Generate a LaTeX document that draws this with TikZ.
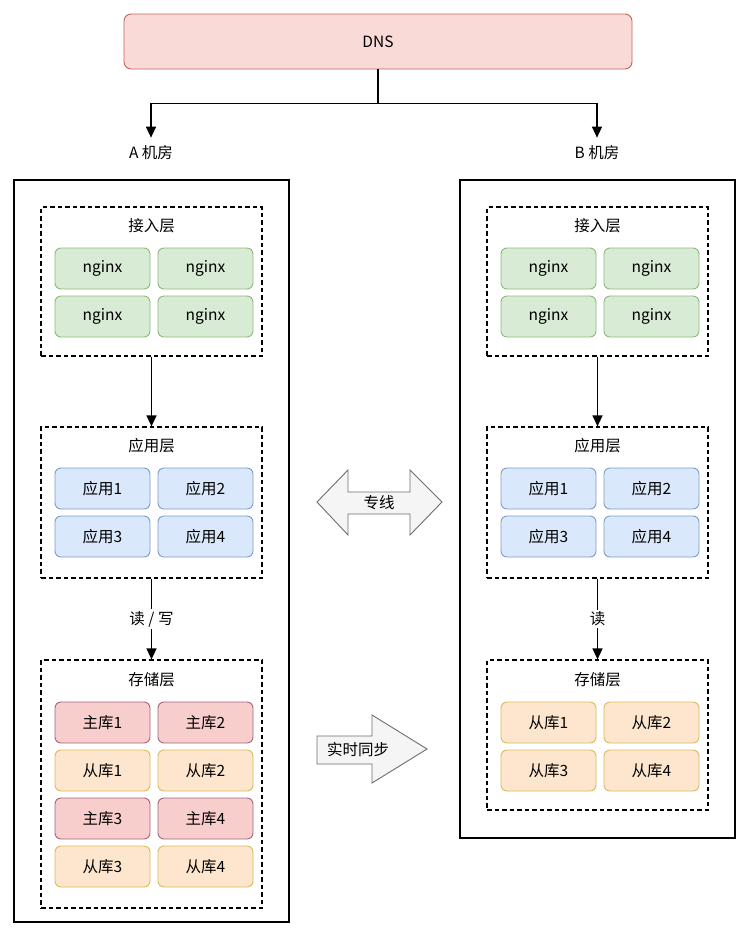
\documentclass[tikz,border=0pt]{standalone}
\usepackage{fontspec}
\setmainfont{Noto Sans CJK SC}
\usetikzlibrary{arrows.meta}
\definecolor{dnsfill}{HTML}{FADAD6}
\definecolor{dnsdraw}{HTML}{C0665F}
\definecolor{gfill}{HTML}{D8EBD5}
\definecolor{gdraw}{HTML}{8DBB78}
\definecolor{bfill}{HTML}{DAE8FC}
\definecolor{bdraw}{HTML}{7C9CCB}
\definecolor{rfill}{HTML}{F8CECC}
\definecolor{rdraw}{HTML}{A4647E}
\definecolor{yfill}{HTML}{FDE6CD}
\definecolor{ydraw}{HTML}{D9BC5A}
\definecolor{afill}{HTML}{F5F5F5}
\definecolor{adraw}{HTML}{6E6E6E}
\begin{document}
\begin{tikzpicture}[x=1pt,y=-1pt,
  font=\fontsize{15.5}{17}\selectfont,
  cell/.style={draw,rounded corners=6pt,minimum width=95pt,minimum height=41pt,line width=0.9pt,inner sep=0pt},
  gcell/.style={cell,fill=gfill,draw=gdraw},
  bcell/.style={cell,fill=bfill,draw=bdraw},
  rcell/.style={cell,fill=rfill,draw=rdraw},
  ycell/.style={cell,fill=yfill,draw=ydraw},
  layer/.style={draw,dash pattern=on 4.5pt off 3pt,line width=1.2pt,minimum width=221pt,inner sep=0pt},
  room/.style={draw,line width=1.5pt,minimum width=275pt,inner sep=0pt},
  arr/.style={-{Triangle[length=11pt,width=10pt]},line width=1.3pt},
  blockarrow/.style={fill=afill,draw=adraw,line width=0.9pt},
  lbl/.style={inner sep=1pt}
]
\useasboundingbox (0,0) rectangle (750,937);
\fill[white] (0,0) rectangle (750,937);

% DNS
\node[draw=dnsdraw,fill=dnsfill,rounded corners=7pt,minimum width=508pt,minimum height=55pt,line width=0.9pt] (dns) at (378,41.5) {DNS};
\node[lbl] (labA) at (151,153) {A 机房};
\node[lbl] (labB) at (597,153) {B 机房};
\draw[arr] (dns.south) -- ++(0,34) -| ([yshift=7pt]labA.north);
\draw[arr] (dns.south) -- ++(0,34) -| ([yshift=7pt]labB.north);

% Rooms
\node[room,minimum height=742pt] (roomA) at (151.5,551) {};
\node[room,minimum height=658pt] (roomB) at (597.5,509) {};

% Room A layers
\node[layer,minimum height=149pt] (accA) at (151.5,281.5) {};
\node[lbl] (accAt) at (151.5,226) {接入层};
\node[gcell] (ngA1) at (102.5,268.5) {nginx};
\node[gcell] (ngA2) at (205.5,268.5) {nginx};
\node[gcell] (ngA3) at (102.5,316.5) {nginx};
\node[gcell] (ngA4) at (205.5,316.5) {nginx};

\node[layer,minimum height=151pt] (appA) at (151.5,502.5) {};
\node[lbl] (appAt) at (151.5,446) {应用层};
\node[bcell] (apA1) at (102.5,488.5) {应用1};
\node[bcell] (apA2) at (205.5,488.5) {应用2};
\node[bcell] (apA3) at (102.5,536.5) {应用3};
\node[bcell] (apA4) at (205.5,536.5) {应用4};

\node[layer,minimum height=248pt] (stA) at (151.5,784) {};
\node[lbl] (stAt) at (151.5,680) {存储层};
\node[rcell] (dbA1) at (102.5,722.5) {主库1};
\node[rcell] (dbA2) at (205.5,722.5) {主库2};
\node[ycell] (dbA3) at (102.5,770.5) {从库1};
\node[ycell] (dbA4) at (205.5,770.5) {从库2};
\node[rcell] (dbA5) at (102.5,818.5) {主库3};
\node[rcell] (dbA6) at (205.5,818.5) {主库4};
\node[ycell] (dbA7) at (102.5,866.5) {从库3};
\node[ycell] (dbA8) at (205.5,866.5) {从库4};

\draw[arr] (accA.south) -- (appA.north);
\draw[arr] (appA.south) -- node[fill=white,inner sep=2pt] (rwA) {读 / 写} (stA.north);

% Room B layers
\node[layer,minimum height=149pt] (accB) at (597.5,281.5) {};
\node[lbl] (accBt) at (597.5,226) {接入层};
\node[gcell] (ngB1) at (548.5,268.5) {nginx};
\node[gcell] (ngB2) at (651.5,268.5) {nginx};
\node[gcell] (ngB3) at (548.5,316.5) {nginx};
\node[gcell] (ngB4) at (651.5,316.5) {nginx};

\node[layer,minimum height=151pt] (appB) at (597.5,502.5) {};
\node[lbl] (appBt) at (597.5,446) {应用层};
\node[bcell] (apB1) at (548.5,488.5) {应用1};
\node[bcell] (apB2) at (651.5,488.5) {应用2};
\node[bcell] (apB3) at (548.5,536.5) {应用3};
\node[bcell] (apB4) at (651.5,536.5) {应用4};

\node[layer,minimum height=150pt] (stB) at (597.5,735) {};
\node[lbl] (stBt) at (597.5,680) {存储层};
\node[ycell] (dbB1) at (548.5,722.5) {从库1};
\node[ycell] (dbB2) at (651.5,722.5) {从库2};
\node[ycell] (dbB3) at (548.5,770.5) {从库3};
\node[ycell] (dbB4) at (651.5,770.5) {从库4};

\draw[arr] (accB.south) -- (appB.north);
\draw[arr] (appB.south) -- node[fill=white,inner sep=2pt] (rB) {读} (stB.north);

% Double block arrow (专线)
\draw[blockarrow] (317,502) -- (348,470) -- (348,492) -- (410,492) -- (410,470) -- (442,502)
  -- (410,535) -- (410,514) -- (348,514) -- (348,535) -- cycle;
\node[lbl] (zx) at (379,503) {专线};

% Single block arrow (实时同步)
\draw[blockarrow] (317,736) -- (372,736) -- (372,715) -- (427,749) -- (372,783) -- (372,764) -- (317,764) -- cycle;
\node[lbl] (sync) at (358,750) {实时同步};
\end{tikzpicture}
\end{document}
